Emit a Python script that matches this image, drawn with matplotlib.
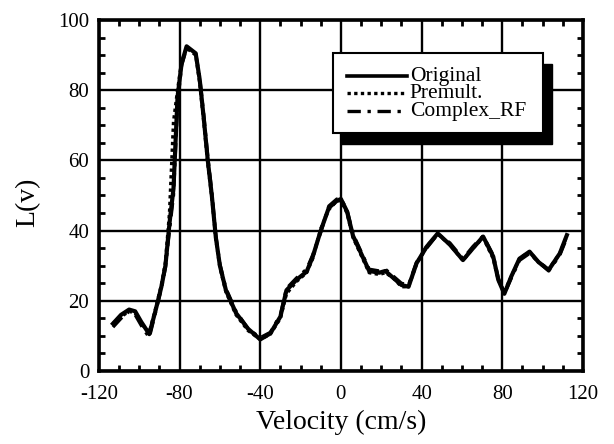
import matplotlib
matplotlib.use("Agg")
import matplotlib.pyplot as plt
from matplotlib.patches import Rectangle
from matplotlib.ticker import MultipleLocator

plt.rcParams['font.family'] = ['Liberation Serif', 'DejaVu Serif']

velocity = [-113, -109, -105, -102, -99, -95, -92, -89, -87, -85,
            -83, -81, -79, -76.5, -72, -70, -68, -66, -64, -62,
            -60, -57, -52, -46, -40, -35, -30, -27, -22, -17,
            -14, -10, -6, -2, 0, 3, 6, 10, 14, 19,
            22, 26, 30, 33.5, 37.5, 42.5, 48, 54, 60.5, 65.5,
            70.5, 75.5, 78, 81, 84.5, 88.5, 93.5, 98, 103, 108.5, 112]
original = [13.5, 16, 17.5, 17, 14, 10.5, 17, 24, 30, 42,
            52, 78, 87.5, 92.5, 90.5, 83, 72, 60, 50, 38,
            30, 23, 16.5, 12, 9, 10.7, 15.5, 23, 26, 28.3,
            32.5, 40, 46.5, 48.5, 49, 45.5, 38.5, 33.5, 28.5, 28,
            28.5, 26.5, 24.5, 24, 30.7, 35.4, 39.2, 36, 31.6, 35,
            38.3, 32.6, 26, 22, 27, 32, 34, 31, 28.8, 33.5, 38.7]
premult = [13.5, 15.5, 17, 16.5, 13.5, 11, 17.5, 24.5, 31, 45,
           71, 80, 88, 92, 90, 82, 71, 59, 49.5, 37.5,
           29.5, 22.5, 16, 11.5, 9, 10.5, 15, 22, 25.5, 28,
           32, 40.5, 46, 48.5, 48.5, 45, 38, 33, 28, 27.5,
           28, 26.5, 24, 24, 30.5, 35.5, 39, 36, 31.5, 35,
           38, 32, 26, 22.5, 27, 32, 34, 31, 29, 33.5, 38.5]
complex_rf = [12.5, 15, 17, 16, 13, 9.5, 16.5, 23.5, 29.5, 40,
              50, 76, 87, 92, 90.5, 83.5, 73, 61, 51, 38.5,
              30.5, 23.5, 17, 12, 9.5, 11, 16, 23.5, 26.5, 29,
              33, 39.5, 47, 49, 49, 46, 39, 34, 29, 28.5,
              29, 27, 25, 24.5, 31, 35, 39, 36.5, 32, 35.5,
              38.5, 33, 26.5, 22, 26.5, 31.5, 33.5, 31, 28.5, 33, 38]

labels = ['Original', 'Premult.', 'Complex_RF']
xticks = [-120, -80, -40, 0, 40, 80, 120]
yticks = [0, 20, 40, 60, 80, 100]

fig = plt.figure(figsize=(6.14, 4.44), dpi=100)
ax = fig.add_axes([0.161, 0.1644, 0.7885, 0.7906])

ax.plot(velocity, original, color='black', lw=3.0, ls='-', zorder=3)
ax.plot(velocity, premult, color='black', lw=2.4, ls=(0, (1, 1)), zorder=3)
ax.plot(velocity, complex_rf, color='black', lw=2.4, ls=(0, (4, 2, 1, 2)), zorder=3)

ax.set_xlim(-120, 120)
ax.set_ylim(0, 100)
ax.set_xticks(xticks)
ax.set_yticks(yticks)
ax.set_xticklabels([str(t) for t in xticks])
ax.set_yticklabels([str(t) for t in yticks])
ax.xaxis.set_minor_locator(MultipleLocator(10))
ax.yaxis.set_minor_locator(MultipleLocator(5))
ax.tick_params(which='both', direction='in', top=True, right=True, width=2, color='black')
ax.tick_params(which='major', length=0, labelsize=15)
ax.tick_params(axis='x', which='major', pad=10)
ax.tick_params(axis='y', which='major', pad=7)
ax.tick_params(which='minor', length=4)
ax.grid(True, which='major', color='black', lw=1.7)
ax.set_axisbelow(True)
for s in ax.spines.values():
    s.set_linewidth(2.6)

ax.set_xlabel('Velocity (cm/s)', fontsize=20, labelpad=4)
ax.set_ylabel('L(v)', fontsize=20)
ax.yaxis.set_label_coords(-0.12, 0.48)

# legend box with offset shadow
bx0, by0, bw, bh = 0.483, 0.678, 0.434, 0.228
ax.add_patch(Rectangle((bx0 + 0.018, by0 - 0.03), bw, bh, transform=ax.transAxes,
                       facecolor='black', edgecolor='black', zorder=5, clip_on=False))
ax.add_patch(Rectangle((bx0, by0), bw, bh, transform=ax.transAxes,
                       facecolor='white', edgecolor='black', lw=1.5, zorder=6, clip_on=False))
styles = [dict(ls='-', lw=2.6), dict(ls=(0, (1, 1)), lw=2.4), dict(ls=(0, (4, 2, 1, 2)), lw=2.4)]
ys = [0.840, 0.791, 0.740]
for lab, st, yy in zip(labels, styles, ys):
    ax.plot([0.512, 0.636], [yy, yy], transform=ax.transAxes, color='black',
            zorder=7, clip_on=False, **st)
    ax.text(0.642, yy, lab, transform=ax.transAxes, fontsize=15.5, va='center',
            ha='left', zorder=7)

fig.savefig('out.png', dpi=100)
